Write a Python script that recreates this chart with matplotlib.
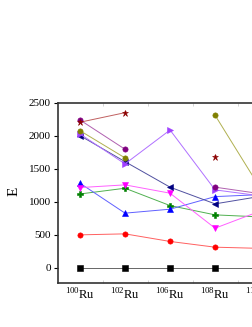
import numpy as np
import matplotlib
matplotlib.use("Agg")
import matplotlib.pyplot as plt
from matplotlib.ticker import MultipleLocator

plt.rcParams['font.family'] = ['Liberation Serif', 'DejaVu Serif']
plt.rcParams['mathtext.fontset'] = 'custom'
plt.rcParams['mathtext.rm'] = 'Liberation Serif'

nan = np.nan
x = [1, 2, 3, 4, 5]
tick_labels = [r'$^{100}$Ru', r'$^{102}$Ru', r'$^{106}$Ru', r'$^{108}$Ru', r'$^{110}$Ru']

black_sq = [0, 0, 0, 0, 0]
red_circ = [500, 515, 400, 313, 295]
green_plus = [1120, 1207, 944, 803, 772]
blue_up = [1283, 829, 889, 1080, 1110]
magenta_down = [1217, 1258, 1132, 601, 860]
navy_left = [2005, 1610, 1223, 970, 1083]
violet_right = [2030, 1576, 2090, 1182, 1092]
olive_circ = [2080, 1667, nan, 2314, 1212]
purple_circ = [2242, 1798, nan, 1223, 1125]
star_line = [2208, 2353, nan, nan, 2333]
star_single = [nan, nan, nan, 1686, nan]

fig = plt.figure(figsize=(2.53, 3.27), dpi=100)
ax = fig.add_axes([0.229, 0.1346, 0.888, 0.5505])

series = [
    (black_sq, 's', 'black', '#666666'),
    (red_circ, 'o', 'red', '#ff6060'),
    (green_plus, 'P', 'green', '#50b050'),
    (blue_up, '^', 'blue', '#6060ff'),
    (magenta_down, 'v', 'magenta', '#ff60ff'),
    (navy_left, '<', 'navy', '#5050a0'),
    (violet_right, '>', '#a040ff', '#b070ff'),
    (olive_circ, 'o', 'olive', '#b0b050'),
    (purple_circ, 'o', 'purple', '#b060b0'),
    (star_line, '*', 'darkred', '#c06060'),
]
for vals, m, mc, lc in series:
    ax.plot(x, vals, color=lc, lw=0.7, marker=m, ms=3.8 if m != '*' else 5,
            mfc=mc, mec=mc, mew=0.4)
ax.plot(x, star_single, ls='none', marker='*', ms=5, mfc='darkred', mec='darkred', mew=0.4)

ax.set_xlim(0.51, 5.5)
ax.set_ylim(-230, 2500)
ax.set_xticks(x)
ax.set_xticklabels(tick_labels, fontsize=9)
ax.set_yticks([0, 500, 1000, 1500, 2000, 2500])
ax.tick_params(axis='y', labelsize=8, length=3, width=0.8, direction='out', pad=2)
ax.tick_params(axis='x', length=0, pad=3)
ax.xaxis.set_minor_locator(MultipleLocator(0.5))
ax.tick_params(axis='x', which='minor', direction='in', length=2, color='#cccccc', top=True)
for s in ax.spines.values():
    s.set_linewidth(1.2)
    s.set_color('#333333')
ax.spines['right'].set_visible(False)

fig.text(0.055, 0.415, 'E', rotation=90, fontsize=11, ha='center', va='center')

fig.savefig('out.png', dpi=100)
